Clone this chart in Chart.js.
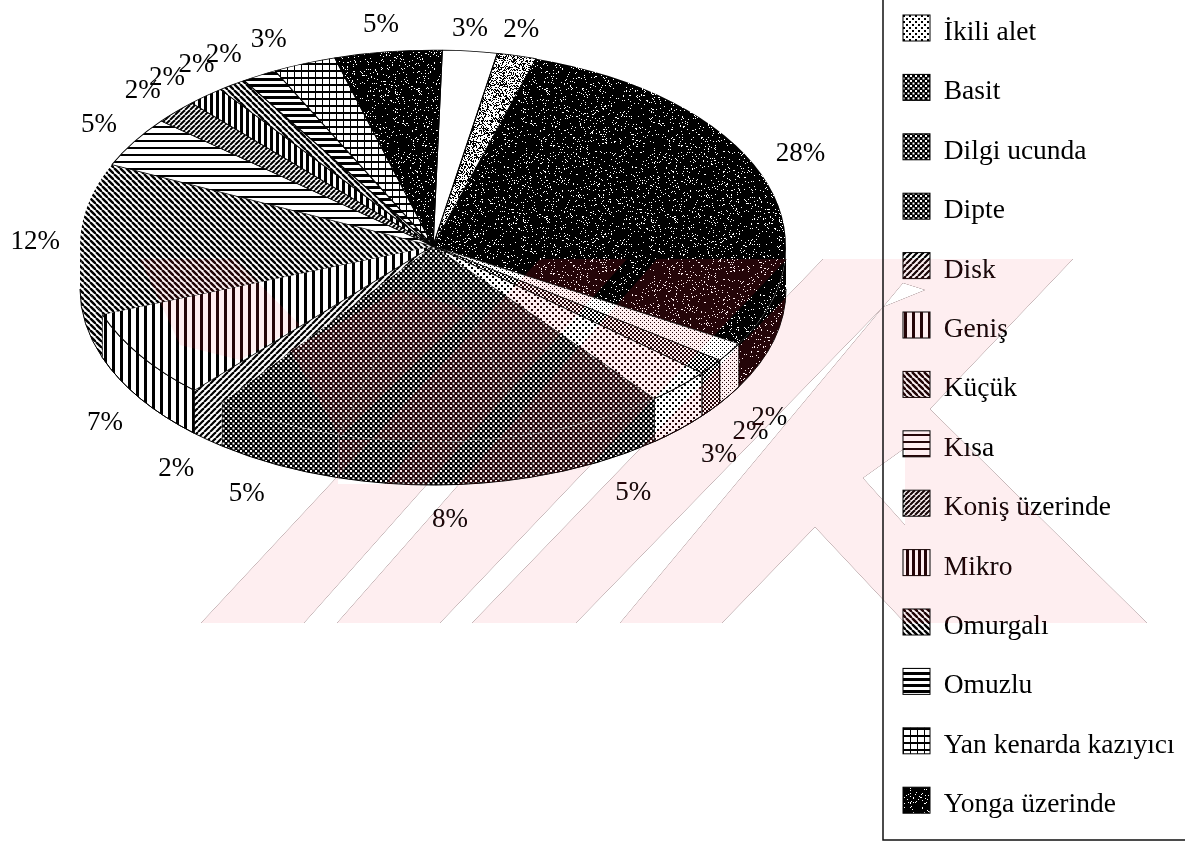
<!DOCTYPE html>
<html>
<head>
<meta charset="utf-8">
<title>Pie</title>
<script src="https://cdn.jsdelivr.net/npm/chart.js@4"></script>
<style>
    html, body { margin: 0; padding: 0; background: #fff; overflow: hidden; }
    #wrap { position: relative; width: 1185px; height: 842px; overflow: hidden; }
</style>
</head>
<body>
<div id="wrap"><canvas id="pie-chart" width="1185" height="900"></canvas></div>
<script>
// legend top is cut off in the scan, so the first five slices have no readable name
const sliceNames = ['', '', '', '', '', 'İkili alet', 'Basit', 'Dilgi ucunda', 'Dipte', 'Disk', 'Geniş', 'Küçük', 'Kısa', 'Koniş üzerinde', 'Mikro', 'Omurgalı', 'Omuzlu', 'Yan kenarda kazıyıcı', 'Yonga üzerinde'];
// printed percentages
const percentLabels = [3, 2, 28, 2, 2, 3, 5, 8, 5, 2, 7, 12, 5, 2, 2, 2, 2, 3, 5];
// slice sizes as measured on the drawing
const sliceShares = [2.5, 1.8, 28.6, 1.6, 1.3, 3.0, 6.3, 8.8, 5.9, 1.6, 7.5, 12.5, 4.2, 2.0, 1.7, 1.3, 1.6, 2.9, 4.9];

const patternNames = ['white', 'gray', 'speckle', 'fineDots', 'midDots', 'lightDots', 'darkDots', 'darkDots', 'darkDots', 'hatchUp', 'wideBars', 'hatchDown', 'rows', 'hatchUpTight', 'bars', 'hatchDownTight', 'thickRows', 'grid', 'speckle'];
// these slices were printed without a visible outline
const openSlices = [2, 6, 7, 8, 9, 11];

const squash = 0.555;
const pieCenterX = 433;
const pieCenterY = 246;
const wallDepth = 43;

function tile(size, paint) {
    const c = document.createElement('canvas');
    c.width = size;
    c.height = size;
    const g = c.getContext('2d');
    g.fillStyle = '#fff';
    g.fillRect(0, 0, size, size);
    g.fillStyle = '#000';
    g.strokeStyle = '#000';
    paint(g, size);
    return c;
}

function noisy(g, size, amount) {
    // fixed texture hash, only for the stipple look
    for (let y = 0; y < size; y++) {
        for (let x = 0; x < size; x++) {
            let h = (x * 374761393 + y * 668265263) | 0;
            h = Math.imul(h ^ (h >>> 13), 1274126177);
            h = (h ^ (h >>> 16)) >>> 0;
            g.fillStyle = (h % 1000) / 1000 < amount ? '#fff' : '#000';
            g.fillRect(x, y, 1, 1);
        }
    }
}

function dots(g, size, dot, color, back) {
    g.fillStyle = back;
    g.fillRect(0, 0, size, size);
    g.fillStyle = color;
    g.fillRect(0, 0, dot, dot);
    g.fillRect(size / 2, size / 2, dot, dot);
}

function hatch(g, size, width, dir) {
    g.lineWidth = width;
    for (let i = -size; i <= size * 2; i += size) {
        g.beginPath();
        if (dir > 0) {
            g.moveTo(i, size);
            g.lineTo(i + size, 0);
        } else {
            g.moveTo(i, 0);
            g.lineTo(i + size, size);
        }
        g.stroke();
    }
}

const tiles = {
    white: () => tile(4, () => {}),
    gray: () => tile(64, (g, s) => noisy(g, s, 0.6)),
    speckle: () => tile(128, (g, s) => noisy(g, s, 0.07)),
    fineDots: () => tile(4, (g, s) => dots(g, s, 1, '#000', '#fff')),
    midDots: () => tile(4, (g, s) => dots(g, s, 2, '#000', '#fff')),
    lightDots: () => tile(6, (g, s) => dots(g, s, 2, '#000', '#fff')),
    darkDots: () => tile(5, (g, s) => dots(g, s, 2, '#fff', '#000')),
    hatchUp: () => tile(6, (g, s) => hatch(g, s, 2.2, 1)),
    hatchUpTight: () => tile(5, (g, s) => hatch(g, s, 2, 1)),
    hatchDown: () => tile(6, (g, s) => hatch(g, s, 2.4, -1)),
    hatchDownTight: () => tile(6, (g, s) => hatch(g, s, 2.4, -1)),
    wideBars: () => tile(8, g => g.fillRect(0, 0, 3, 8)),
    bars: () => tile(6, g => g.fillRect(0, 0, 3, 6)),
    rows: () => tile(7, g => g.fillRect(0, 0, 7, 2)),
    thickRows: () => tile(6, g => g.fillRect(0, 0, 6, 3)),
    grid: () => tile(7, g => { g.fillRect(0, 0, 7, 2); g.fillRect(0, 0, 1, 7); })
};

const probe = document.createElement('canvas').getContext('2d');
const flatFills = patternNames.map(name => probe.createPattern(tiles[name](), 'repeat'));
const faceFills = patternNames.map(name => probe.createPattern(tiles[name](), 'repeat'));

const pie3d = {
    id: 'pie3d',
    afterLayout(chart) {
        // the legend sits in its own frame, higher than the layout would put it
        const legend = chart.legend;
        const pad = legend.options.labels.padding;
        legend.left = 903 - pad;
        legend.top = 19 - pad;
    },
    beforeDatasetsDraw(chart) {
        const ctx = chart.ctx;
        const arcs = chart.getDatasetMeta(0).data;
        // side wall: only the front half of the rim shows
        arcs.forEach((arc, i) => {
            const from = Math.max(arc.startAngle, 0);
            const to = Math.min(arc.endAngle, Math.PI);
            if (from >= to) return;
            const r = arc.outerRadius;
            ctx.beginPath();
            ctx.ellipse(pieCenterX, pieCenterY, r, r * squash, 0, from, to);
            ctx.ellipse(pieCenterX, pieCenterY + wallDepth, r, r * squash, 0, to, from, true);
            ctx.closePath();
            ctx.fillStyle = flatFills[i];
            ctx.fill();
            ctx.strokeStyle = '#000';
            ctx.lineWidth = 1;
            if (!openSlices.includes(i)) ctx.stroke();
            ctx.beginPath();
            ctx.ellipse(pieCenterX, pieCenterY + wallDepth, r, r * squash, 0, from, to);
            ctx.stroke();
        });
        const face = new DOMMatrix([1, 0, 0, squash, pieCenterX - arcs[0].x, pieCenterY - arcs[0].y * squash]);
        // undo the squash on the patterns so face and wall line up
        faceFills.forEach(p => p.setTransform(face.inverse()));
        ctx.save();
        ctx.transform(face.a, face.b, face.c, face.d, face.e, face.f);
    },
    afterDatasetsDraw(chart) {
        chart.ctx.restore();
    },
    afterDraw(chart) {
        const ctx = chart.ctx;
        drawLegendSwatches(chart, ctx);
        drawPercentLabels(chart, ctx);
        drawFrame(ctx);
        drawWatermark(ctx);
    }
};

// swatches sit a little above the text line in the original
function drawLegendSwatches(chart, ctx) {
    const opts = chart.legend.options.labels;
    const step = Math.max(opts.boxHeight, opts.font.size) + opts.padding;
    const x = chart.legend.left + opts.padding;
    const top = chart.legend.top + opts.padding - 4;
    chart.legend.legendItems.forEach((item, j) => {
        const fill = flatFills[sliceNames.indexOf(item.text)];
        ctx.fillStyle = fill;
        ctx.fillRect(x, top + j * step, opts.boxWidth, opts.boxHeight);
        ctx.strokeStyle = '#000';
        ctx.lineWidth = 1;
        ctx.strokeRect(x, top + j * step, opts.boxWidth, opts.boxHeight);
    });
}

// hand placement of the printed labels relative to their slice, as in the original
const labelNudges = [[-10, 8], [-11, 3], [-4, -9], [0, 6], [2, 4], [6, 4], [13, 3], [9, 5], [-19, 2], [-12, 6], [-8, 8], [-11, 4], [-7, -1], [-10, 0], [-19, 5], [-19, 5], [-22, 6], [-27, 4], [-8, 3]];

function drawPercentLabels(chart, ctx) {
    ctx.save();
    ctx.font = '27px "Liberation Serif"';
    ctx.fillStyle = '#000';
    ctx.textAlign = 'center';
    ctx.textBaseline = 'middle';
    chart.getDatasetMeta(0).data.forEach((arc, i) => {
        const mid = (arc.startAngle + arc.endAngle) / 2;
        const x = 439 + 393 * Math.cos(mid);
        let y = pieCenterY + 226 * Math.sin(mid);
        if (Math.sin(mid) > 0) y += wallDepth;
        ctx.fillText(percentLabels[i] + '%', x + labelNudges[i][0], y + labelNudges[i][1]);
    });
    ctx.restore();
}

function drawFrame(ctx) {
    ctx.save();
    ctx.strokeStyle = '#111';
    ctx.lineWidth = 1.5;
    ctx.beginPath();
    ctx.moveTo(883, 0);
    ctx.lineTo(883, 840);
    ctx.lineTo(1185, 840);
    ctx.stroke();
    ctx.restore();
}

// pink stamp across the scanned page
const stampShapes = [
    [[140, 259], [235, 259], [300, 325], [240, 360], [180, 345]],
    [[400, 290], [290, 350], [340, 437], [470, 310]],
    [[338, 440], [338, 484], [385, 484], [420, 440]],
    [[201, 623], [304, 623], [627, 259], [540, 259]],
    [[337, 623], [440, 623], [787, 259], [657, 259]],
    [[472, 623], [576, 623], [883, 307], [925, 290], [925, 259], [823, 259]],
    [[620, 623], [722, 623], [815, 527], [905, 623], [1147, 623], [930, 409], [1073, 259], [925, 259], [925, 290], [903, 283]],
    [[863, 478], [905, 448], [905, 525]]
];

function drawWatermark(ctx) {
    ctx.save();
    ctx.beginPath();
    stampShapes.forEach(shape => {
        shape.forEach((p, i) => i ? ctx.lineTo(p[0], p[1]) : ctx.moveTo(p[0], p[1]));
        ctx.closePath();
    });
    ctx.globalCompositeOperation = 'multiply';
    ctx.fillStyle = '#feeef0';
    ctx.fill('evenodd');
    ctx.globalCompositeOperation = 'lighten';
    ctx.fillStyle = '#240508';
    ctx.fill('evenodd');
    ctx.restore();
}

const legendLabels = {
    font: { family: '"Liberation Serif"', size: 27.5 },
    color: '#000',
    boxWidth: 27,
    boxHeight: 26,
    padding: 31.9,
    filter: item => item.text !== '',
    generateLabels(chart) {
        const items = Chart.overrides.doughnut.plugins.legend.labels.generateLabels(chart);
        // swatches are painted by the plugin, offset from the text
        items.forEach(item => {
            item.fillStyle = 'transparent';
            item.strokeStyle = 'transparent';
        });
        return items;
    }
};

new Chart(document.getElementById('pie-chart'), {
    type: 'pie',
    data: {
        labels: sliceNames,
        datasets: [{
            data: sliceShares,
            backgroundColor: faceFills,
            borderColor: sliceNames.map((name, i) => openSlices.includes(i) ? 'transparent' : '#000'),
            borderWidth: 1.2,
            radius: 353,
            rotation: 1.5,
            clip: false
        }]
    },
    options: {
        responsive: false,
        animation: false,
        events: [],
        layout: { padding: { left: 28 } },
        plugins: {
            legend: { position: 'right', align: 'start', labels: legendLabels },
            tooltip: { enabled: false }
        }
    },
    plugins: [pie3d]
});
</script>
</body>
</html>
